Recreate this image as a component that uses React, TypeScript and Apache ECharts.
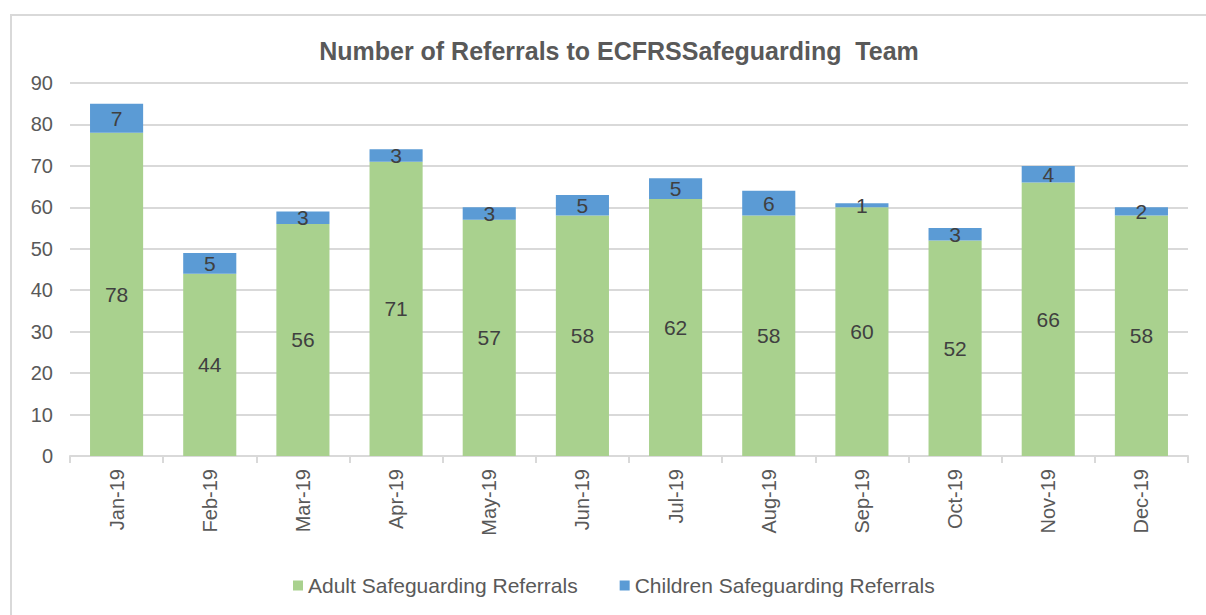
import React, { useEffect, useRef } from "react";
import * as echarts from "echarts";

const categories = ["Jan-19", "Feb-19", "Mar-19", "Apr-19", "May-19", "Jun-19", "Jul-19", "Aug-19", "Sep-19", "Oct-19", "Nov-19", "Dec-19"];
const adultReferrals = [78, 44, 56, 71, 57, 58, 62, 58, 60, 52, 66, 58];
const childrenReferrals = [7, 5, 3, 3, 3, 5, 5, 6, 1, 3, 4, 2];
const yTicks = { min: 0, max: 90, interval: 10 };

export default function App() {
  const ref = useRef<HTMLDivElement>(null);
  useEffect(() => {
    const chart = echarts.init(ref.current!, null, { renderer: "svg" });
    const font = "Liberation Sans, Arial, sans-serif";
    chart.setOption({
      animation: false,
      backgroundColor: "#ffffff",
      textStyle: { fontFamily: font },
      graphic: [
        {
          type: "rect",
          shape: { x: 11, y: 15, width: 1400, height: 800 },
          style: { fill: "none", stroke: "#D9D9D9", lineWidth: 2 },
          silent: true,
        },
      ],
      title: {
        text: "Number of Referrals to ECFRSSafeguarding  Team",
        left: 614,
        textAlign: "center",
        top: 33,
        textStyle: { fontSize: 25, fontWeight: "bold", color: "#595959", fontFamily: font },
      },
      legend: {
        top: 570,
        left: 288,
        itemWidth: 10,
        itemHeight: 10,
        itemGap: 42,
        icon: "rect",
        textStyle: { fontSize: 21, color: "#595959", fontFamily: font },
        data: ["Adult Safeguarding Referrals", "Children Safeguarding Referrals"],
      },
      grid: { left: 70, right: 18, top: 83, bottom: 159, containLabel: false },
      xAxis: {
        type: "category",
        data: categories,
        axisLine: { lineStyle: { color: "#D9D9D9", width: 2 } },
        axisTick: { show: true, length: 7, lineStyle: { color: "#D9D9D9", width: 2 } },
        axisLabel: { rotate: 90, fontSize: 20, color: "#595959", margin: 13, fontFamily: font },
      },
      yAxis: {
        type: "value",
        min: yTicks.min,
        max: yTicks.max,
        interval: yTicks.interval,
        axisLine: { show: false },
        axisTick: { show: false },
        splitLine: { lineStyle: { color: "#D9D9D9", width: 2 } },
        axisLabel: { fontSize: 20, color: "#595959", margin: 17, fontFamily: font },
      },
      series: [
        {
          name: "Adult Safeguarding Referrals",
          type: "bar",
          stack: "total",
          data: adultReferrals,
          barWidth: "57%",
          itemStyle: { color: "#A9D18E" },
          label: { show: true, position: "inside", fontSize: 21, color: "#404040", fontFamily: font },
        },
        {
          name: "Children Safeguarding Referrals",
          type: "bar",
          stack: "total",
          data: childrenReferrals,
          barWidth: "57%",
          itemStyle: { color: "#5B9BD5" },
          label: { show: true, position: "inside", fontSize: 21, color: "#404040", fontFamily: font },
        },
      ],
    });
    return () => chart.dispose();
  }, []);
  return (
    <div
      ref={ref}
      style={{ position: "fixed", left: 0, top: 0, width: 1206, height: 615 }}
    />
  );
}
